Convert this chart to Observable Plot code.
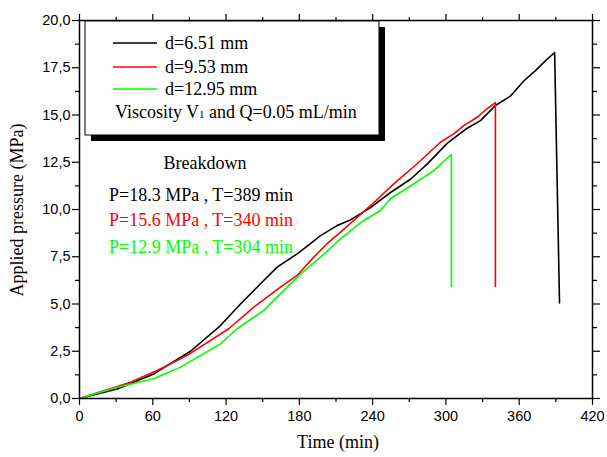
<!DOCTYPE html>
<html><head><meta charset="utf-8">
<script src="https://cdn.jsdelivr.net/npm/d3@7"></script>
<script src="https://cdn.jsdelivr.net/npm/@observablehq/plot@0.6"></script>
<style>body{margin:0;background:#fff}</style>
</head><body><div id="chart"></div>
<script>
const seriesNames = ["d=6.51 mm", "d=9.53 mm", "d=12.95 mm"];
const seriesColors = ["#000000", "#ff0000", "#00ff00"];
const breakdownLabels = ["P=18.3 MPa , T=389 min", "P=15.6 MPa , T=340 min", "P=12.9 MPa , T=304 min"];

const timeBlack = [0, 30.8, 60.8, 90.9, 115.4, 131.8, 148.2, 161.8, 178.2, 189.1, 197.3, 210.9, 221.8, 238.2, 254.6, 271, 284.6, 301, 317.4, 328.3, 340.5, 352.8, 363.7, 373.3, 382.8, 389, 393];
const pressBlack = [0, 0.5, 1.3, 2.5, 3.86, 5.0, 6.07, 6.95, 7.65, 8.19, 8.62, 9.15, 9.45, 10.1, 10.9, 11.6, 12.4, 13.5, 14.3, 14.7, 15.5, 16.0, 16.8, 17.35, 17.95, 18.3, 5.05];

const timeRed = [0, 41.7, 63.6, 88.2, 122.2, 142.7, 164.5, 178.2, 191.8, 202.7, 213.7, 238.2, 257.3, 276.4, 295.5, 306.4, 314.6, 325.5, 333.7, 340.5, 340.5];
const pressRed = [0, 0.86, 1.48, 2.28, 3.69, 4.83, 5.89, 6.51, 7.48, 8.19, 8.8, 10.2, 11.36, 12.42, 13.56, 14.0, 14.44, 14.88, 15.33, 15.65, 5.93];

const timeGreen = [0, 30.8, 60.8, 82.7, 115.4, 129.1, 150.9, 178.2, 197.3, 213.7, 232.7, 246.4, 254.6, 273.7, 290, 304.5, 304.5];
const pressGreen = [0, 0.6, 1.04, 1.66, 2.89, 3.69, 4.66, 6.42, 7.48, 8.45, 9.42, 9.95, 10.57, 11.36, 12.06, 12.91, 5.93];

const xMajor = [0, 60, 120, 180, 240, 300, 360, 420];
const xMinor = [30, 90, 150, 210, 270, 330, 390];
const yMajor = [0, 2.5, 5, 7.5, 10, 12.5, 15, 17.5, 20];
const yMinor = [1.25, 3.75, 6.25, 8.75, 11.25, 13.75, 16.25, 18.75];

const allT = [timeBlack, timeRed, timeGreen];
const allP = [pressBlack, pressRed, pressGreen];
const rows = [];
allT.forEach((ts, i) => ts.forEach((t, j) => rows.push({t, p: allP[i][j], series: seriesNames[i]})));

const fmtY = d => d3.format(".1f")(d).replace(".", ",");
const blank = () => "";

const plot = Plot.plot({
  width: 607, height: 457,
  marginLeft: 79, marginRight: 15, marginTop: 20, marginBottom: 59,
  style: {fontFamily: "'Liberation Sans', Arial, sans-serif", fontSize: "14.5px", background: "#fff", color: "#000", overflow: "visible"},
  x: {domain: [0, 420]},
  y: {domain: [0, 20]},
  color: {domain: seriesNames, range: seriesColors},
  marks: [
    Plot.axisX({anchor: "bottom", ticks: xMajor, tickSize: 7, tickPadding: 5, tickFormat: d => String(d), label: null, strokeWidth: 1.2}),
    Plot.axisX({anchor: "bottom", ticks: xMinor, tickSize: 4, tickFormat: blank, label: null, strokeWidth: 1.2}),
    Plot.axisX({anchor: "top", ticks: xMajor, tickSize: 7, tickFormat: blank, label: null, strokeWidth: 1.2}),
    Plot.axisX({anchor: "top", ticks: xMinor, tickSize: 4, tickFormat: blank, label: null, strokeWidth: 1.2}),
    Plot.axisY({anchor: "left", ticks: yMajor, tickSize: 7, tickPadding: 2, tickFormat: fmtY, label: null, strokeWidth: 1.2}),
    Plot.axisY({anchor: "left", ticks: yMinor, tickSize: 4, tickFormat: blank, label: null, strokeWidth: 1.2}),
    Plot.axisY({anchor: "right", ticks: yMajor, tickSize: 7, tickFormat: blank, label: null, strokeWidth: 1.2}),
    Plot.axisY({anchor: "right", ticks: yMinor, tickSize: 4, tickFormat: blank, label: null, strokeWidth: 1.2}),
    Plot.line(rows, {x: "t", y: "p", z: "series", stroke: "series", strokeWidth: 1.6, curve: "linear"}),
    Plot.frame({stroke: "#000", strokeWidth: 1.5})
  ]
});
document.getElementById("chart").appendChild(plot);

const svg = d3.select(plot);
const serif = "'Liberation Serif', 'Times New Roman', serif";

// axis titles
svg.append("text").attr("x", 338).attr("y", 448).attr("text-anchor", "middle")
  .attr("font-family", serif).attr("font-size", 18).attr("fill", "#000").text("Time (min)");
svg.append("text").attr("transform", "translate(23,210) rotate(-90)").attr("text-anchor", "middle")
  .attr("font-family", serif).attr("font-size", 18).attr("fill", "#000").text("Applied pressure (MPa)");

// legend box with shadow
const lg = svg.append("g").attr("text-anchor", "start");
lg.append("rect").attr("x", 91).attr("y", 27).attr("width", 294).attr("height", 114).attr("fill", "#000");
lg.append("rect").attr("x", 85).attr("y", 21).attr("width", 294).attr("height", 114).attr("fill", "#fff").attr("stroke", "#000").attr("stroke-width", 1);
const legY = [43, 67, 89];
seriesNames.forEach((n, i) => {
  lg.append("line").attr("x1", 113).attr("x2", 157).attr("y1", legY[i]).attr("y2", legY[i])
    .attr("stroke", seriesColors[i]).attr("stroke-width", 1.6);
  lg.append("text").attr("x", 165).attr("y", legY[i] + 6).attr("text-anchor", "start").attr("font-family", serif).attr("font-size", 18)
    .attr("fill", "#000").text(n);
});
const vt = lg.append("text").attr("x", 115).attr("y", 118).attr("text-anchor", "start").attr("font-family", serif).attr("font-size", 18).attr("fill", "#000");
vt.append("tspan").text("Viscosity V");
vt.append("tspan").attr("font-size", 11).text("1");
vt.append("tspan").text(" and Q=0.05 mL/min");

// breakdown annotations
svg.append("text").attr("x", 205).attr("y", 169).attr("text-anchor", "middle").attr("font-family", serif)
  .attr("font-size", 18).attr("fill", "#000").text("Breakdown");
const bY = [201, 226, 253];
breakdownLabels.forEach((s, i) => {
  svg.append("text").attr("x", 109).attr("y", bY[i]).attr("text-anchor", "start").attr("font-family", serif).attr("font-size", 18)
    .attr("fill", seriesColors[i]).text(s);
});
</script>
</body></html>
